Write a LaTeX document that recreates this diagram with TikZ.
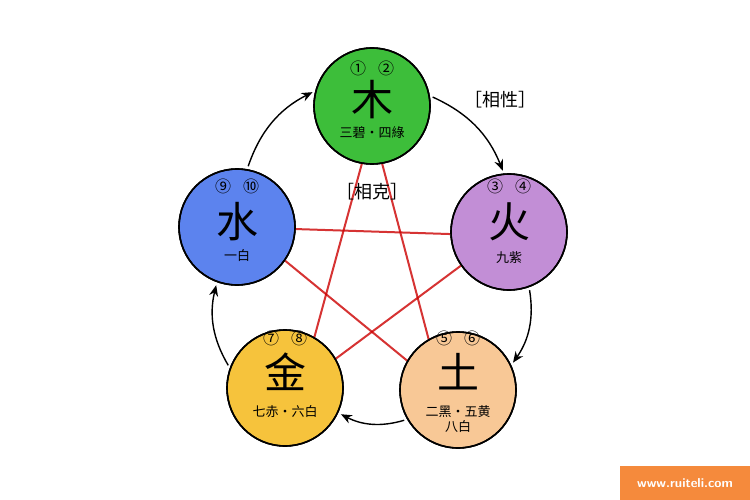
\documentclass[tikz,border=0pt]{standalone}
\usepackage{fontspec}
\newfontfamily\cjk{Noto Sans CJK SC}
\usetikzlibrary{positioning,arrows.meta}
\definecolor{woodgreen}{HTML}{3DBE3A}
\definecolor{firepurple}{HTML}{C28ED6}
\definecolor{earthpeach}{HTML}{F8C896}
\definecolor{metalyellow}{HTML}{F6C33C}
\definecolor{waterblue}{HTML}{5C83EE}
\definecolor{markorange}{HTML}{F58A3C}
\tikzset{
  element/.style = {draw = black, line width = 1.6pt, circle, minimum size = 116pt, inner sep = 0pt},
  bigchar/.style = {font = \cjk\fontsize{42}{42}\selectfont},
  smalltext/.style = {font = \cjk\fontsize{13}{15}\selectfont, align = center},
  numtext/.style = {font = \cjk\fontsize{16}{16}\selectfont},
  cycle/.style = {-{Stealth[length = 11pt, width = 9pt]}, line width = 1.4pt, shorten <= 3pt, shorten >= 3pt},
  control/.style = {red!80!black, line width = 2pt, opacity = 0.8}
}
\begin{document}
\begin{tikzpicture}[x = 1pt, y = -1pt]
\useasboundingbox[fill = white] (0,0) rectangle (750,500);
% elements
\node[element, fill = woodgreen]   (wood)  at (372,106) {};
\node[element, fill = firepurple]  (fire)  at (509,232) {};
\node[element, fill = earthpeach]  (earth) at (458,390) {};
\node[element, fill = metalyellow] (metal) at (285,388) {};
\node[element, fill = waterblue]   (water) at (237,227) {};
% controlling cycle
\draw[control] (wood.-100)  -- (metal.60);
\draw[control] (wood.-80)   -- (earth.120);
\draw[control] (water.-2)   -- (fire.182);
\draw[control] (water.-35)  -- (earth.150);
\draw[control] (metal.30)   -- (fire.-145);
\foreach \n in {wood, fire, earth, metal, water}
  \node[element, fill = none] at (\n) {};
% generating cycle
\draw[cycle] (wood.10)   to[bend left = 22] (fire.95);
\draw[cycle] (fire.-70)  to[bend left = 22] (earth.25);
\draw[cycle] (earth.-150) to[bend left = 22] (metal.-25);
\draw[cycle] (metal.160) to[bend left = 22] (water.-110);
\draw[cycle] (water.80)  to[bend left = 22] (wood.165);
% texts
\node[bigchar] (woodc)  at (372,100) {木};
\node[numtext] (woodn)  at (372,68)  {①\hspace{12pt}②};
\node[smalltext] (woodt) at (372,133) {三碧・四綠};
\node[bigchar] (firec)  at (509,222) {火};
\node[numtext] (firen)  at (509,186) {③\hspace{12pt}④};
\node[smalltext] (firet) at (509,258) {九紫};
\node[bigchar] (earthc) at (458,372) {土};
\node[numtext] (earthn) at (458,338) {⑤\hspace{12pt}⑥};
\node[smalltext] (eartht) at (458,419) {二黑・五黄\\八白};
\node[bigchar] (metalc) at (285,372) {金};
\node[numtext] (metaln) at (285,338) {⑦\hspace{12pt}⑧};
\node[smalltext] (metalt) at (285,412) {七赤・六白};
\node[bigchar] (waterc) at (237,222) {水};
\node[numtext] (watern) at (237,186) {⑨\hspace{12pt}⑩};
\node[smalltext] (watert) at (237,256) {一白};
\node[font = \cjk\fontsize{18}{18}\selectfont] (gen)  at (500,100) {［相性］};
\node[font = \cjk\fontsize{18}{18}\selectfont] (ctrl) at (372,192) {［相克］};
% watermark
\fill[markorange] (620,466) rectangle (750,500);
\node[white, font = \sffamily\bfseries\fontsize{13}{13}\selectfont] (mark) at (685,483) {www.ruiteli.com};
\end{tikzpicture}
\end{document}
